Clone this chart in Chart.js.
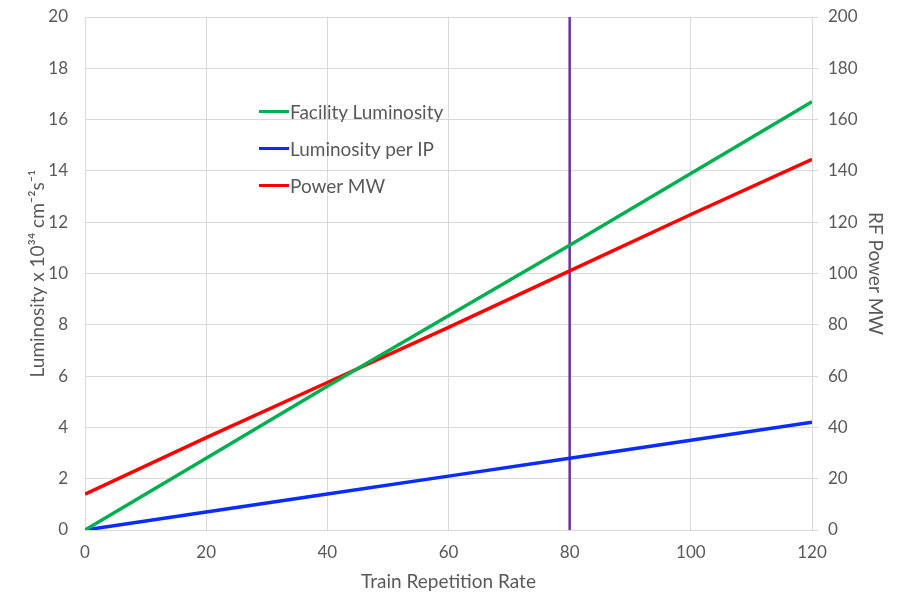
<!DOCTYPE html>
<html>
<head>
<meta charset="utf-8">
<script src="https://cdn.jsdelivr.net/npm/chart.js@4.4.1/dist/chart.umd.min.js"></script>
<style>
  html, body { margin: 0; padding: 0; background: #fff; }
  #wrap { position: relative; width: 897px; height: 593px; }
  #legenda { position: absolute; left: 259px; top: 93px; font-family: Lato, "Open Sans", sans-serif; font-size: 19px; color: #595959; }
  .fila-leyenda { display: flex; align-items: center; height: 37px; }
  .muestra { width: 30px; height: 3.5px; margin-right: 1px; }
</style>
</head>
<body>
<div id="wrap">
  <canvas id="grafico" width="897" height="593"></canvas>
  <div id="legenda"></div>
</div>
<script>
// Datos
const repRate = [0, 20, 40, 60, 80, 100, 120];
const facilityLumi = [0, 2.8, 5.6, 8.35, 11.1, 13.9, 16.7];
const lumiPerIP = [0, 0.7, 1.4, 2.1, 2.8, 3.5, 4.2];
const powerMW = [14, 36, 57.5, 79, 101, 123, 144.5];
const markerX = 80;
const xTicks = [0, 20, 40, 60, 80, 100, 120];

const GRIS = '#595959';
const REJILLA = '#d9d9d9';
const FUENTE = 'Lato, "Open Sans", sans-serif';

const puntos = (ys) => repRate.map((x, i) => ({ x, y: ys[i] }));

const series = [
    { label: 'Facility Luminosity', data: puntos(facilityLumi), borderColor: '#00b050', yAxisID: 'y' },
    { label: 'Luminosity per IP', data: puntos(lumiPerIP), borderColor: '#0a2cff', yAxisID: 'y' },
    { label: 'Power MW', data: puntos(powerMW), borderColor: '#ff0000', yAxisID: 'y2' },
];

// ancho fijo de los ejes verticales, sin relleno extra arriba/abajo
const fijarVertical = s => { s.width = 85; s.paddingTop = 0; s.paddingBottom = 0; };

const ctx = document.getElementById('grafico');
const chart = new Chart(ctx, {
    type: 'scatter',
    data: {
        datasets: [
            ...series.map(s => ({ ...s, showLine: true, borderWidth: 3.5, pointRadius: 0, fill: false })),
            {
                label: 'marker', data: [{ x: markerX, y: 0 }, { x: markerX, y: 20 }],
                showLine: true, borderColor: '#7030a0', borderWidth: 2.5, pointRadius: 0, yAxisID: 'y'
            }
        ]
    },
    options: {
        responsive: false, animation: false, devicePixelRatio: 1,
        layout: { padding: { top: 17, left: 0, right: 0, bottom: 0 } },
        plugins: { legend: { display: false }, tooltip: { enabled: false } },
        scales: {
            x: {
                type: 'linear', min: 0, max: 120,
                afterBuildTicks: s => { s.ticks = xTicks.map(v => ({ value: v })); },
                afterFit: s => { s.height = 63; s.paddingLeft = 0; s.paddingRight = 0; },
                grid: { color: REJILLA, drawTicks: false },
                border: { color: REJILLA },
                ticks: { color: GRIS, font: { family: FUENTE, size: 17 }, padding: 12 },
                title: { display: true, text: 'Train Repetition Rate', color: GRIS, font: { family: FUENTE, size: 19 }, padding: { top: 4, bottom: 0 } }
            },
            y: {
                position: 'left', min: 0, max: 20,
                afterFit: fijarVertical,
                grid: { color: REJILLA, drawTicks: false },
                border: { color: REJILLA },
                ticks: { stepSize: 2, color: GRIS, font: { family: FUENTE, size: 17 }, padding: 17 },
                title: { display: true, text: 'Luminosity x 10³⁴ cm⁻²s⁻¹', color: GRIS, font: { family: FUENTE, size: 19 }, padding: { top: 26 } }
            },
            y2: {
                position: 'right', min: 0, max: 200,
                afterFit: fijarVertical,
                grid: { drawOnChartArea: false, color: REJILLA, tickLength: 6 },
                border: { color: REJILLA },
                ticks: { stepSize: 20, color: GRIS, font: { family: FUENTE, size: 17 }, padding: 10 },
                title: { display: true, text: 'RF Power MW', color: GRIS, font: { family: FUENTE, size: 19 }, padding: { top: 10 } }
            }
        }
    }
});

// Leyenda dentro del área del gráfico
const legenda = document.getElementById('legenda');
legenda.innerHTML = series.map(s =>
    `<div class="fila-leyenda"><span class="muestra" style="background:${s.borderColor}"></span>${s.label}</div>`
).join('');
</script>
</body>
</html>
